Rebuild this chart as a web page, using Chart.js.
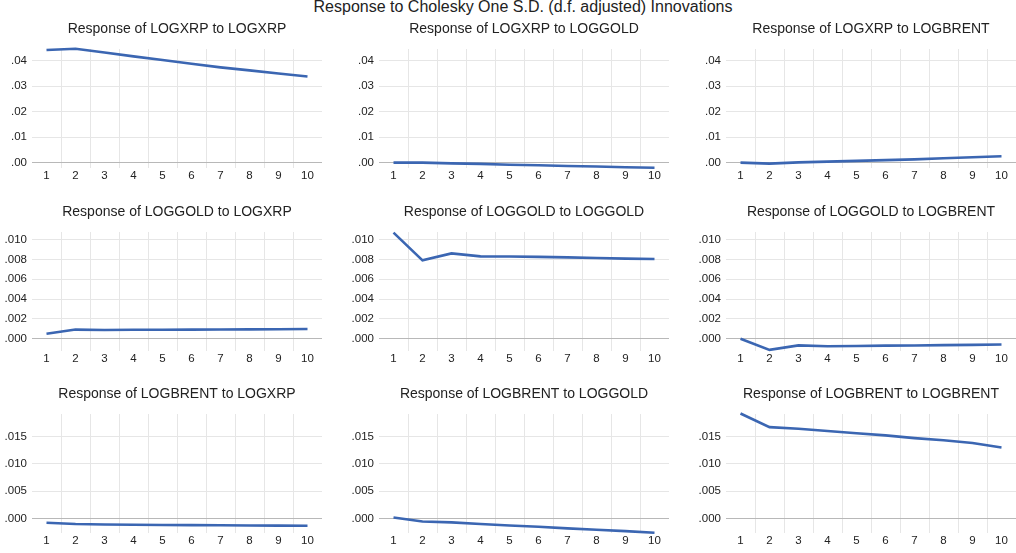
<!DOCTYPE html>
<html>
<head>
<meta charset="utf-8">
<script src="https://cdn.jsdelivr.net/npm/chart.js@4"></script>
<style>
  html, body { margin: 0; padding: 0; background: #ffffff; }
  body { width: 1016px; height: 553px; position: relative; overflow: hidden; font-family: "Liberation Sans", Arial, sans-serif; }
  #mainTitle { position: absolute; left: 0; width: 1046px; top: -2px; text-align: center; font-size: 16px; color: #222; white-space: nowrap; }
  canvas { position: absolute; }
</style>
</head>
<body>
<div id="mainTitle">Response to Cholesky One S.D. (d.f. adjusted) Innovations</div>

<script>
// Horizon (periods after the shock)
const periods = ['1', '2', '3', '4', '5', '6', '7', '8', '9', '10'];

// Impulse responses, one array per (response, shock) pair
const xrpToXrp     = [0.0442, 0.0447, 0.0432, 0.0417, 0.0403, 0.0388, 0.0374, 0.0362, 0.0350, 0.0338];
const xrpToGold    = [0.0000, 0.0000, -0.0003, -0.0005, -0.0008, -0.0010, -0.0013, -0.0015, -0.0018, -0.0020];
const xrpToBrent   = [0.0000, -0.0004, 0.0001, 0.0004, 0.0007, 0.0010, 0.0013, 0.0017, 0.0021, 0.0025];

const goldToXrp    = [0.00050, 0.00092, 0.00088, 0.00090, 0.00091, 0.00092, 0.00093, 0.00094, 0.00095, 0.00098];
const goldToGold   = [0.01070, 0.00790, 0.00860, 0.00830, 0.00829, 0.00825, 0.00820, 0.00814, 0.00808, 0.00803];
const goldToBrent  = [0.00000, -0.00113, -0.00067, -0.00076, -0.00073, -0.00070, -0.00068, -0.00065, -0.00062, -0.00058];

const brentToXrp   = [-0.00073, -0.00097, -0.00104, -0.00109, -0.00113, -0.00116, -0.00119, -0.00122, -0.00125, -0.00128];
const brentToGold  = [0.00024, -0.00049, -0.00067, -0.00097, -0.00122, -0.00146, -0.00176, -0.00200, -0.00225, -0.00255];
const brentToBrent = [0.0192, 0.0167, 0.0164, 0.0160, 0.0156, 0.0152, 0.0147, 0.0143, 0.0138, 0.0130];

// Value-axis ticks and their printed labels, one set per row
const xrpTicks        = [0, 0.01, 0.02, 0.03, 0.04];
const xrpTickLabels   = ['.00', '.01', '.02', '.03', '.04'];
const goldTicks       = [0, 0.002, 0.004, 0.006, 0.008, 0.010];
const goldTickLabels  = ['.000', '.002', '.004', '.006', '.008', '.010'];
const brentTicks      = [0, 0.005, 0.010, 0.015];
const brentTickLabels = ['.000', '.005', '.010', '.015'];

// Value-axis extents per row
const xrpRange   = [-0.0021, 0.0446];
const goldRange  = [-0.00124, 0.01076];
const brentRange = [-0.0026, 0.0191];

const variables = ['LOGXRP', 'LOGGOLD', 'LOGBRENT'];

const rows = [
  { series: [xrpToXrp, xrpToGold, xrpToBrent],       ticks: xrpTicks,   labels: xrpTickLabels,   range: xrpRange },
  { series: [goldToXrp, goldToGold, goldToBrent],    ticks: goldTicks,  labels: goldTickLabels,  range: goldRange },
  { series: [brentToXrp, brentToGold, brentToBrent], ticks: brentTicks, labels: brentTickLabels, range: brentRange }
];

// Panel geometry
const plotLefts = [32, 379, 726];
const plotTops  = [49, 232, 414];
const plotW = 290, plotH = 119;
const yAxisW = 32, titleH = 30, xAxisH = 18;

const FONT = '"Liberation Sans", Arial, sans-serif';
const LINE_BLUE = '#3b66b2';
const GRID = '#e6e6e6';
const ZERO = '#b8b8b8';

rows.forEach((row, r) => {
  row.series.forEach((values, c) => {
    const canvas = document.createElement('canvas');
    const w = yAxisW + plotW, h = titleH + plotH + xAxisH;
    canvas.width = w; canvas.height = h;
    canvas.style.left = (plotLefts[c] - yAxisW) + 'px';
    canvas.style.top = (plotTops[r] - titleH) + 'px';
    canvas.style.width = w + 'px'; canvas.style.height = h + 'px';
    document.body.appendChild(canvas);

    new Chart(canvas, {
      type: 'line',
      data: {
        labels: periods,
        datasets: [{
          data: values,
          borderColor: LINE_BLUE,
          borderWidth: 2.6,
          pointRadius: 0,
          tension: 0,
          fill: false,
          clip: false
        }]
      },
      options: {
        responsive: false,
        animation: false,
        devicePixelRatio: 1,
        layout: { padding: 0 },
        plugins: {
          legend: { display: false },
          tooltip: { enabled: false },
          title: {
            display: true,
            fullSize: false,
            text: 'Response of ' + variables[r] + ' to ' + variables[c],
            color: '#222',
            font: { family: FONT, size: 14, weight: 'normal', lineHeight: 1.2 },
            padding: { top: 2, bottom: 11.2 }
          }
        },
        scales: {
          x: {
            type: 'category',
            offset: true,
            border: { display: false },
            grid: {
              offset: true,
              drawTicks: false,
              lineWidth: 1,
              color: ctx => (ctx.index === 0 || ctx.index === periods.length) ? 'rgba(0,0,0,0)' : GRID
            },
            ticks: {
              autoSkip: false,
              maxRotation: 0,
              padding: 1,
              color: '#222',
              font: { family: FONT, size: 11.5 }
            },
            afterFit: axis => { axis.height = xAxisH; }
          },
          y: {
            min: row.range[0],
            max: row.range[1],
            border: { display: false },
            grid: {
              drawTicks: false,
              lineWidth: 1,
              color: ctx => (ctx.tick && ctx.tick.value === 0) ? ZERO : GRID
            },
            afterBuildTicks: axis => { axis.ticks = row.ticks.map(v => ({ value: v })); },
            ticks: {
              padding: 5,
              color: '#222',
              font: { family: FONT, size: 11.5 },
              callback: (v, i) => row.labels[i]
            },
            afterFit: axis => { axis.width = yAxisW; }
          }
        }
      }
    });
  });
});
</script>
</body>
</html>
